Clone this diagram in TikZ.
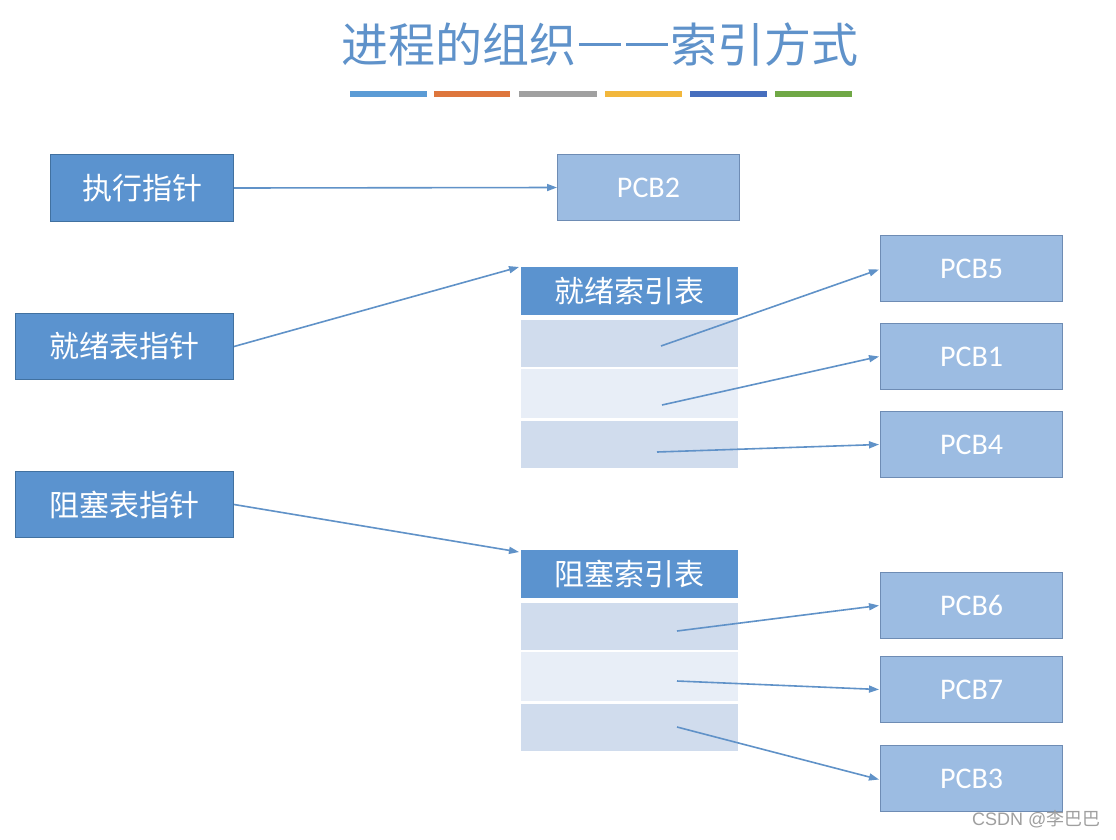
\documentclass[tikz,border=0pt]{standalone}
\usepackage{fontspec}
\setmainfont{Carlito}
\newfontfamily\cjk{Noto Sans CJK SC}
\newfontfamily\wmlat{Liberation Sans}
\usetikzlibrary{arrows.meta,positioning}
\definecolor{titleblue}{RGB}{95,146,202}
\definecolor{darkfill}{RGB}{91,147,207}
\definecolor{darkline}{RGB}{65,113,160}
\definecolor{lightfill}{RGB}{156,188,226}
\definecolor{lightline}{RGB}{110,140,180}
\definecolor{rowa}{RGB}{208,220,237}
\definecolor{rowb}{RGB}{232,238,247}
\definecolor{arrowblue}{RGB}{96,146,200}
\definecolor{barA}{RGB}{91,155,213}
\definecolor{barB}{RGB}{222,118,60}
\definecolor{barC}{RGB}{160,160,160}
\definecolor{barD}{RGB}{242,183,60}
\definecolor{barE}{RGB}{70,110,190}
\definecolor{barF}{RGB}{112,168,70}
\newcommand{\tdash}{\kern0.05em\rule[0.36em]{0.9em}{0.065em}\kern0.05em}
\tikzset{
  darkbox/.style={draw=darkline, line width=1pt, fill=darkfill, text=white, inner sep=0pt,
    anchor=north west, font=\cjk\fontsize{30}{36}\selectfont},
  pcbbox/.style={draw=lightline, line width=1pt, fill=lightfill, text=white, inner sep=0pt,
    anchor=north west, minimum width=182pt, minimum height=66pt, font=\fontsize{30}{36}\selectfont},
  headbox/.style={fill=darkfill, text=white, inner sep=0pt, anchor=north west,
    minimum width=217pt, minimum height=48pt, font=\cjk\fontsize{30}{36}\selectfont},
  rowA/.style={fill=rowa, inner sep=0pt, anchor=north west, minimum width=217pt, minimum height=47pt},
  rowB/.style={fill=rowb, inner sep=0pt, anchor=north west, minimum width=217pt, minimum height=49pt},
  conn/.style={draw=arrowblue, line width=1.6pt, -{Triangle[length=10pt,width=7pt]}},
  bar/.style={line width=6pt},
}
\begin{document}
\begin{tikzpicture}[x=1pt,y=-1pt]
\useasboundingbox[fill=white] (0,0) rectangle (1116,839);
% title
\node[text=titleblue, font=\cjk\fontsize{47}{54}\selectfont, inner sep=0pt] (title) at (600,45) {进程的组织\tdash\tdash 索引方式};
% colour bars
\draw[bar, barA] (350,94) -- (427,94);
\draw[bar, barB] (434,94) -- (510,94);
\draw[bar, barC] (519,94) -- (597,94);
\draw[bar, barD] (605,94) -- (682,94);
\draw[bar, barE] (690,94) -- (767,94);
\draw[bar, barF] (775,94) -- (852,94);
% left pointer boxes
\node[darkbox, minimum width=183pt, minimum height=67pt] (exec) at (50,154) {执行指针};
\node[darkbox, minimum width=218pt, minimum height=66pt] (ready) at (15,313) {就绪表指针};
\node[darkbox, minimum width=218pt, minimum height=66pt] (block) at (15,471) {阻塞表指针};
% PCB2
\node[pcbbox] (pcb2) at (557,154) {PCB2};
% ready index table
\node[headbox] (rhead) at (521,267) {就绪索引表};
\node[rowA] (r1) at (521,320) {};
\node[rowB] (r2) at (521,369) {};
\node[rowA] (r3) at (521,421) {};
% blocked index table
\node[headbox] (bhead) at (521,550) {阻塞索引表};
\node[rowA] (b1) at (521,603) {};
\node[rowB] (b2) at (521,652) {};
\node[rowA] (b3) at (521,704) {};
% PCB boxes
\node[pcbbox] (pcb5) at (880,235) {PCB5};
\node[pcbbox] (pcb1) at (880,323) {PCB1};
\node[pcbbox] (pcb4) at (880,411) {PCB4};
\node[pcbbox] (pcb6) at (880,572) {PCB6};
\node[pcbbox] (pcb7) at (880,656) {PCB7};
\node[pcbbox] (pcb3) at (880,745) {PCB3};
% start points inside rows
\coordinate (s1) at (661,346);
\coordinate (s2) at (662,405);
\coordinate (s3) at (657,452);
\coordinate (t1) at (677,631);
\coordinate (t2) at (677,681);
\coordinate (t3) at (677,727);
% connectors
\draw[conn] (exec.east) -- (pcb2.west);
\draw[conn] (ready.east) -- ([xshift=-2pt]rhead.north west);
\draw[conn] (block.east) -- ([xshift=-2pt,yshift=-2pt]bhead.north west);
\draw[conn] (s1) -- ([xshift=-1pt,yshift=-1pt]pcb5.west);
\draw[conn] (s2) -- ([xshift=-1pt]pcb1.west);
\draw[conn] (s3) -- ([xshift=-1pt]pcb4.west);
\draw[conn] (t1) -- ([xshift=-1pt]pcb6.west);
\draw[conn] (t2) -- ([xshift=-1pt]pcb7.west);
\draw[conn] (t3) -- ([xshift=-1pt,yshift=-1pt]pcb3.west);
% watermark
\node[anchor=west, inner sep=0pt, text=gray!75, font=\fontsize{18}{20}\selectfont] (wm) at (972,819) {{\wmlat CSDN @}{\cjk 李巴巴}};
\end{tikzpicture}
\end{document}
